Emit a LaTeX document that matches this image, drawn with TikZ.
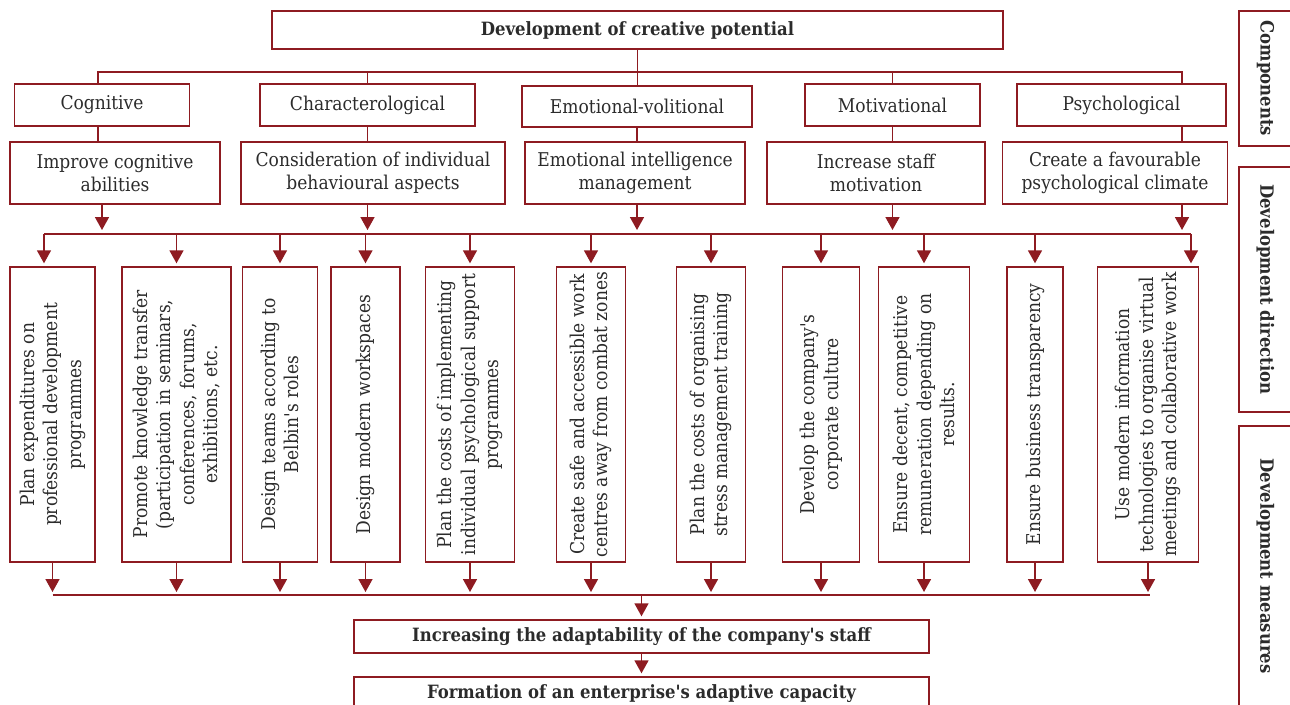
\documentclass[tikz,border=0pt]{standalone}
\usepackage{fontspec}
\setmainfont{DejaVu Serif Condensed}
\usepackage{xcolor}
\usepackage{tikz}
\usetikzlibrary{arrows.meta}

\definecolor{wine}{HTML}{8E1B21}
\definecolor{ink}{HTML}{2B2B2B}

\begin{document}
\begin{tikzpicture}[x=1pt,y=-1pt,
  every node/.style={font=\fontsize{19}{23.5}\selectfont,text=ink},
  box/.style={draw=wine,line width=1.4pt,inner sep=2pt,align=center},
  head/.style={box,font=\fontsize{18.3}{22}\selectfont\bfseries},
  vbox/.style={box,rotate=90,minimum width=295pt},
  side/.style={box,rotate=-90,minimum height=53pt,font=\fontsize{18.3}{22}\selectfont\bfseries},
  link/.style={draw=wine,line width=1.6pt},
  flow/.style={link,-{Triangle[length=13pt,width=14pt]},shorten >=3pt}]
\useasboundingbox (0,0) rectangle (1290,704);
\clip (0,0) rectangle (1290,704);

% Top of the tree
\node[head,minimum width=731pt,minimum height=38pt] (dev) at (637.5,30) {Development of creative potential};

% Components
\node[box,minimum width=174.5pt,minimum height=42pt] (cog) at (102,105) {Cognitive};
\node[box,minimum width=215pt,minimum height=42pt] (cha) at (367.5,105) {Characterological};
\node[box,minimum width=230pt,minimum height=41pt] (emo) at (637,106.5) {Emotional-volitional};
\node[box,minimum width=175pt,minimum height=42pt] (mot) at (892.5,105) {Motivational};
\node[box,minimum width=209pt,minimum height=42pt] (psy) at (1121.5,105) {Psychological};

% Development directions
\node[box,minimum width=210pt,minimum height=62pt] (imp) at (115,173) {Improve cognitive\\abilities};
\node[box,minimum width=264pt,minimum height=62pt] (con) at (373,173) {Consideration of individual\\behavioural aspects};
\node[box,minimum width=220pt,minimum height=62pt] (eil) at (635,173) {Emotional intelligence\\management};
\node[box,minimum width=218pt,minimum height=62pt] (stf) at (876,173) {Increase staff\\motivation};
\node[box,minimum width=225pt,minimum height=62pt] (cli) at (1115,173) {Create a favourable\\psychological climate};

% Development measures (rotated)
\node[vbox,minimum height=85pt] (m1) at (52.5,414.5) {Plan expenditures on\\professional development\\programmes};
\node[vbox,minimum height=109pt] (m2) at (176.5,414.5) {Promote knowledge transfer\\(participation in seminars,\\conferences, forums,\\exhibitions, etc.};
\node[vbox,minimum height=74.5pt] (m3) at (280,414.5) {Design teams according to\\Belbin\textquotesingle s roles};
\node[vbox,minimum height=69pt] (m4) at (365.5,414.5) {Design modern workspaces};
\node[vbox,minimum height=89.5pt] (m5) at (470,414.5) {Plan the costs of implementing\\individual psychological support\\programmes};
\node[vbox,minimum height=68.5pt] (m6) at (591,414.5) {Create safe and accessible work\\centres away from combat zones};
\node[vbox,minimum height=68.5pt] (m7) at (711,414.5) {Plan the costs of organising\\stress management training};
\node[vbox,minimum height=76.5pt] (m8) at (821,414.5) {Develop the company\textquotesingle s\\corporate culture};
\node[vbox,minimum height=90.5pt] (m9) at (924,414.5) {Ensure decent, competitive\\remuneration depending on\\results.};
\node[vbox,minimum height=56pt] (m10) at (1035,414.5) {Ensure business transparency};
\node[vbox,minimum height=101.5pt] (m11) at (1148,414.5) {Use modern information\\technologies to organise virtual\\meetings and collaborative work};

% Results
\node[head,minimum width=575pt,minimum height=33pt] (ada) at (641.5,636.5) {Increasing the adaptability of the company\textquotesingle s staff};
\node[head,minimum width=575pt,minimum height=33pt] (cap) at (641.5,693.5) {Formation of an enterprise\textquotesingle s adaptive capacity};

% Level labels on the right
\node[side,minimum width=135pt] (cmp) at (1265.5,78.5) {Components};
\node[side,minimum width=245pt] (dir) at (1265.5,289.5) {Development direction};
\node[side,minimum width=280pt] (mea) at (1265.5,566) {Development measures};

% Bus lines
\coordinate (b1l) at (98,72);
\coordinate (b1r) at (1182,72);
\coordinate (b2l) at (44,234);
\coordinate (b2r) at (1191,234);
\coordinate (b3l) at (52.5,595);
\coordinate (b3r) at (1150,595);

\draw[link] (dev.south) -- (dev.south |- emo.north);
\draw[link] (b1l |- cog.north) -- (b1l) -- (b1r) -- (b1r |- psy.north);
\draw[link] (cha.north) -- (cha.north |- b1l);
\draw[link] (mot.north) -- (mot.north |- b1l);

\draw[link] (b1l |- cog.south) -- (b1l |- imp.north);
\draw[link] (cha.south) -- (cha.south |- con.north);
\draw[link] (emo.south) -- (emo.south |- eil.north);
\draw[link] (mot.south) -- (mot.south |- stf.north);
\draw[link] (b1r |- psy.south) -- (b1r |- cli.north);

% Directions down to the measures
\draw[flow,shorten >=4pt] (cog |- imp.south) -- (cog |- b2l);
\draw[flow,shorten >=4pt] (cha |- con.south) -- (cha |- b2l);
\draw[flow,shorten >=4pt] (emo |- eil.south) -- (emo |- b2l);
\draw[flow,shorten >=4pt] (mot |- stf.south) -- (mot |- b2l);
\draw[flow,shorten >=4pt] (b1r |- cli.south) -- (b1r |- b2l);

\draw[link] (b2l) -- (b2r);
\draw[flow] (b2l) -- (b2l |- m1.east);
\draw[flow] (m2 |- b2l) -- (m2.east);
\draw[flow] (m3 |- b2l) -- (m3.east);
\draw[flow] (m4 |- b2l) -- (m4.east);
\draw[flow] (m5 |- b2l) -- (m5.east);
\draw[flow] (m6 |- b2l) -- (m6.east);
\draw[flow] (m7 |- b2l) -- (m7.east);
\draw[flow] (m8 |- b2l) -- (m8.east);
\draw[flow] (m9 |- b2l) -- (m9.east);
\draw[flow] (m10 |- b2l) -- (m10.east);
\draw[flow] (b2r) -- (b2r |- m11.east);

% Measures down to the results
\draw[flow] (m1.west) -- (m1 |- b3l);
\draw[flow] (m2.west) -- (m2 |- b3l);
\draw[flow] (m3.west) -- (m3 |- b3l);
\draw[flow] (m4.west) -- (m4 |- b3l);
\draw[flow] (m5.west) -- (m5 |- b3l);
\draw[flow] (m6.west) -- (m6 |- b3l);
\draw[flow] (m7.west) -- (m7 |- b3l);
\draw[flow] (m8.west) -- (m8 |- b3l);
\draw[flow] (m9.west) -- (m9 |- b3l);
\draw[flow] (m10.west) -- (m10 |- b3l);
\draw[flow] (m11.west) -- (m11 |- b3l);
\draw[link] (b3l) -- (b3r);
\draw[flow] (ada.north |- b3l) -- (ada.north);
\draw[flow] (ada.south) -- (cap.north);
\end{tikzpicture}
\end{document}
